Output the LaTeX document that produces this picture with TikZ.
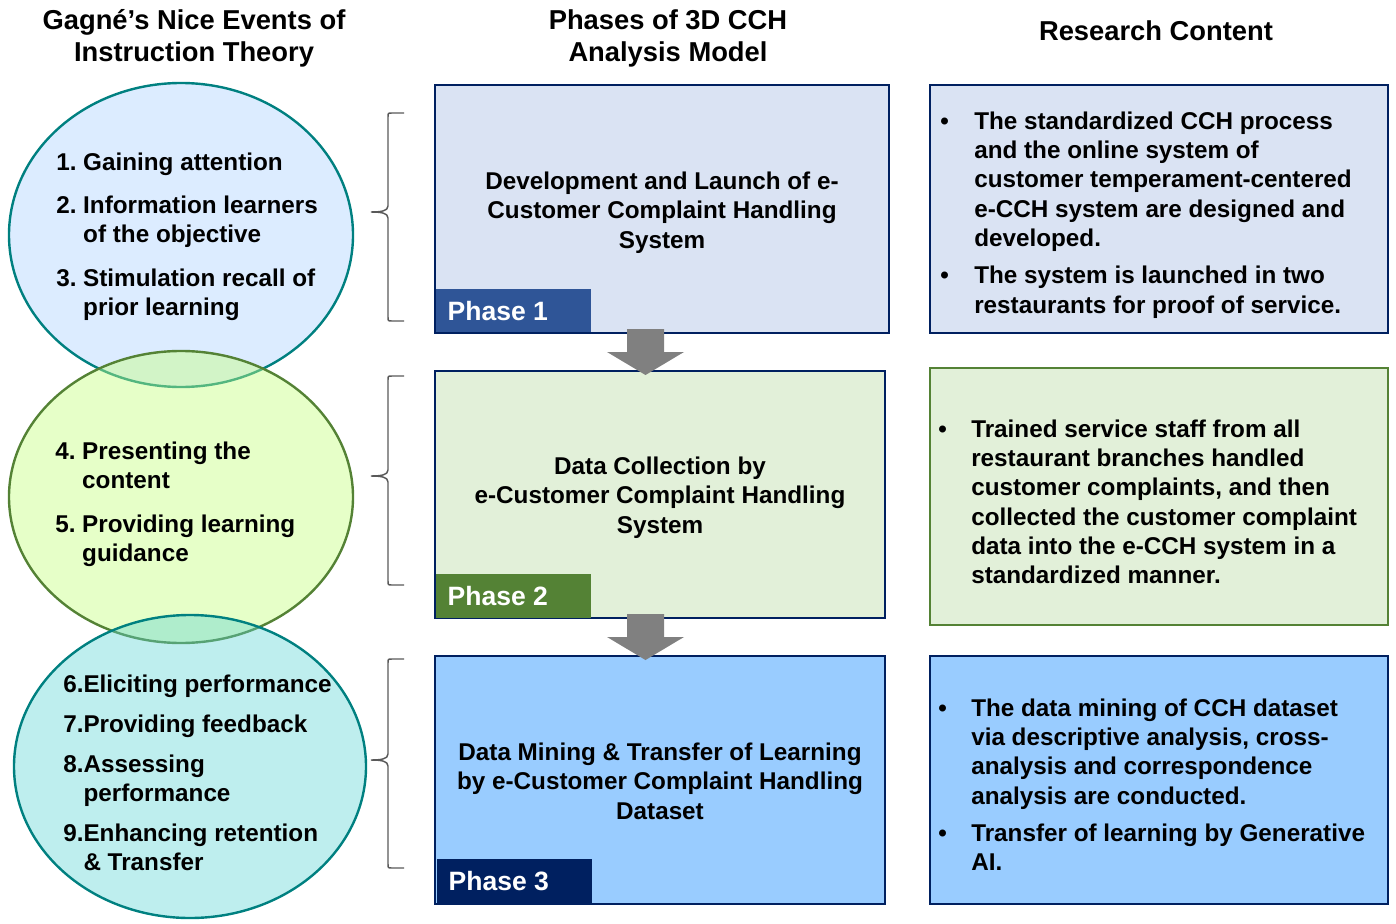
\documentclass[tikz,border=0pt]{standalone}
\usepackage{fontspec}
\setmainfont{Liberation Sans}
\usetikzlibrary{shapes.geometric}
\definecolor{navy}{HTML}{002060}
\definecolor{phaseblue}{HTML}{2F5597}
\definecolor{pgreen}{HTML}{548235}
\definecolor{fillA}{HTML}{DAE3F3}
\definecolor{fillB}{HTML}{E2F0D9}
\definecolor{fillC}{HTML}{99CCFF}
\definecolor{tealb}{HTML}{008080}
\definecolor{ellA}{HTML}{DCECFF}
\definecolor{ellB}{RGB}{197,255,127}
\definecolor{ellC}{RGB}{92,212,212}
\definecolor{braceg}{HTML}{595959}
\definecolor{arrowg}{HTML}{808080}
\tikzset{
 body/.style={font=\fontsize{18.2pt}{22pt}\selectfont\bfseries, inner sep=0pt},
 head/.style={font=\fontsize{20.5pt}{24pt}\selectfont\bfseries, align=center, inner sep=0pt},
 ell/.style={ellipse, draw, line width=1.8pt, inner sep=0pt},
 box/.style={rectangle, line width=1.5pt, inner sep=0pt},
 phaselabel/.style={rectangle, anchor=south west, minimum width=116.25pt, minimum height=32.5pt, inner sep=0pt, text=white, font=\fontsize{19.9pt}{22pt}\selectfont\bfseries},
 bracestyle/.style={draw=braceg, line width=1.1pt},
 blockarrow/.style={fill=arrowg, draw=none},
}
\newcommand\mybrc[3]{\draw[bracestyle] (404,#1) -- (392,#1) .. controls (388,#1) .. (388,#1+4) -- (388,#2-6) .. controls (388,#2-1) and (381,#2) .. (371,#2) .. controls (381,#2) and (388,#2+1) .. (388,#2+6) -- (388,#3-4) .. controls (388,#3) .. (392,#3) -- (404,#3);}
\begin{document}
\begin{tikzpicture}[x=0.75pt,y=-0.75pt]
\useasboundingbox (0,0) rectangle (1396,924);
% headers
\node[head] (h1) at (194,38.5) {Gagné’s Nice Events of\\Instruction Theory};
\node[head] (h2) at (668,38.5) {Phases of 3D CCH\\Analysis Model};
\node[head] (h3) at (1156,30.5) {Research Content};
% ellipses
\node[ell, draw=tealb, fill=ellA, minimum width=258pt, minimum height=228pt] (e1) at (181,235) {};
\node[ell, draw=pgreen, fill=ellB, fill opacity=0.43, minimum width=258pt, minimum height=219pt] (e2) at (181,497) {};
\node[ell, draw=tealb, fill=ellC, fill opacity=0.4, minimum width=264pt, minimum height=227.25pt] (e3) at (190,766.5) {};
\node[body, anchor=north west] (e1t) at (56,149.3) {\begin{tabular}{@{}l@{\ }l@{}}1.&Gaining attention\\[10.5pt]2.&Information learners\\&of the objective\\[10.5pt]3.&Stimulation recall of\\&prior learning\end{tabular}};
\node[body, anchor=north west] (e2t) at (55,438.5) {\begin{tabular}{@{}l@{\ }l@{}}4.&Presenting the\\&content\\[11pt]5.&Providing learning\\&guidance\end{tabular}};
\node[body, anchor=north west] (e3t) at (63,671.3) {\begin{tabular}{@{}l@{}l@{}}6.&Eliciting performance\\[8pt]7.&Providing feedback\\[8pt]8.&Assessing\\&performance\\[8pt]9.&Enhancing retention\\&\& Transfer\end{tabular}};
% braces
\mybrc{113}{212}{321}
\mybrc{376}{476}{585}
\mybrc{659}{760}{868}
% phase boxes
\node[box, draw=navy, fill=fillA, minimum width=340.5pt, minimum height=186pt] (p1) at (662,209) {};
\node[box, draw=navy, fill=fillB, minimum width=337.5pt, minimum height=185.25pt] (p2) at (660,494.5) {};
\node[box, draw=navy, fill=fillC, minimum width=337.5pt, minimum height=186pt] (p3) at (660,780) {};
\node[phaselabel, fill=phaseblue] (l1) at (436,332.5) {\makebox[116.25pt][l]{\hspace{8.5pt}\raisebox{-1.2pt}{Phase 1}}};
\node[phaselabel, fill=pgreen] (l2) at (436,618) {\makebox[116.25pt][l]{\hspace{8.5pt}\raisebox{-1.2pt}{Phase 2}}};
\node[phaselabel, fill=navy] (l3) at (437,903) {\makebox[116.25pt][l]{\hspace{8.5pt}\raisebox{-1.2pt}{Phase 3}}};
\node[body, align=center] (p1t) at (662,212.5) {Development and Launch of e-\\Customer Complaint Handling\\System};
\node[body, align=center] (p2t) at (660,497.5) {Data Collection by\\e-Customer Complaint Handling\\System};
\node[body, align=center] (p3t) at (660,781) {Data Mining \& Transfer of Learning\\by e-Customer Complaint Handling\\Dataset};
% arrows
\fill[blockarrow] (627,329) -- (664,329) -- (664,352) -- (684,352) -- (645.5,375) -- (607,352) -- (627,352) -- cycle;
\fill[blockarrow] (627,614) -- (664,614) -- (664,637) -- (684,637) -- (645.5,660) -- (607,637) -- (627,637) -- cycle;
% research boxes
\node[box, draw=navy, fill=fillA, minimum width=343.5pt, minimum height=186pt] (r1) at (1159,209) {};
\node[box, draw=pgreen, fill=fillB, minimum width=343.5pt, minimum height=192.75pt] (r2) at (1159,496.5) {};
\node[box, draw=navy, fill=fillC, minimum width=343.5pt, minimum height=186pt] (r3) at (1159,780) {};
\node[body, anchor=north west] (r1t) at (940,108.5) {\begin{tabular}{@{}p{25.5pt}@{}l@{}}•&The standardized CCH process\\&and the online system of\\&customer temperament-centered\\&e-CCH system are designed and\\&developed.\\[6pt]•&The system is launched in two\\&restaurants for proof of service.\end{tabular}};
\node[body, anchor=north west] (r2t) at (938,416.3) {\begin{tabular}{@{}p{24.75pt}@{}l@{}}•&Trained service staff from all\\&restaurant branches handled\\&customer complaints, and then\\&collected the customer complaint\\&data into the e-CCH system in a\\&standardized manner.\end{tabular}};
\node[body, anchor=north west] (r3t) at (938,695.3) {\begin{tabular}{@{}p{24.75pt}@{}l@{}}•&The data mining of CCH dataset\\&via descriptive analysis, cross-\\&analysis and correspondence\\&analysis are conducted.\\[6pt]•&Transfer of learning by Generative\\&AI.\end{tabular}};
\end{tikzpicture}
\end{document}
